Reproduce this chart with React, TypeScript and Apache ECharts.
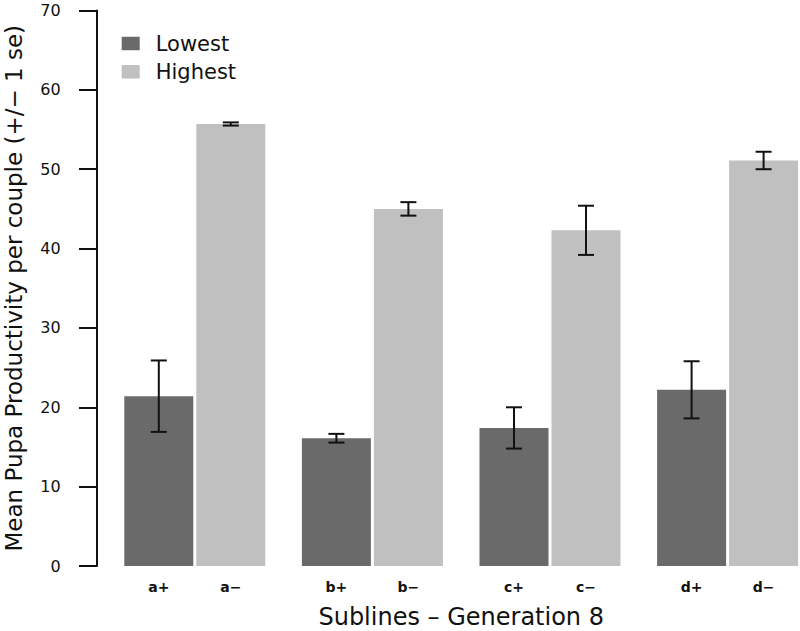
import React, { useEffect, useRef } from "react";
import * as echarts from "echarts";

const groups = ["a", "b", "c", "d"];
const seriesNames = ["Lowest", "Highest"];
const lowestMean = [21.4, 16.1, 17.4, 22.2];
const lowestSe = [4.5, 0.55, 2.6, 3.6];
const highestMean = [55.7, 45.0, 42.3, 51.1];
const highestSe = [0.2, 0.85, 3.1, 1.1];
const yTicks = [0, 10, 20, 30, 40, 50, 60, 70];

const FONT = "DejaVu Sans";
const BAR_W = 69;
const BAR_GAP = 3;
const HALF = (BAR_W + BAR_GAP) / 2;

function errorSeries(name: string, means: number[], ses: number[], dx: number) {
  return {
    type: "custom",
    name: name + "-err",
    silent: true,
    z: 10,
    data: means.map((m, i) => [i, m - ses[i], m + ses[i]]),
    renderItem: (params: any, api: any) => {
      const lo = api.coord([api.value(0), api.value(1)]);
      const hi = api.coord([api.value(0), api.value(2)]);
      const x = lo[0] + dx;
      const cap = 8;
      const st = { stroke: "#111", lineWidth: 2 };
      return {
        type: "group",
        children: [
          { type: "line", shape: { x1: x, y1: lo[1], x2: x, y2: hi[1] }, style: st },
          { type: "line", shape: { x1: x - cap, y1: lo[1], x2: x + cap, y2: lo[1] }, style: st },
          { type: "line", shape: { x1: x - cap, y1: hi[1], x2: x + cap, y2: hi[1] }, style: st },
        ],
      };
    },
  };
}

export default function App() {
  const ref = useRef<HTMLDivElement>(null);
  useEffect(() => {
    if (!ref.current) return;
    const chart = echarts.init(ref.current, undefined, { renderer: "svg" });
    chart.setOption({
      animation: false,
      backgroundColor: "#ffffff",
      textStyle: { fontFamily: FONT },
      grid: { left: 106, top: 10.5, width: 710.4, bottom: 65, outerBoundsMode: "none", containLabel: false },
      legend: {
        orient: "vertical",
        left: 116.7,
        top: 28,
        itemWidth: 18,
        itemHeight: 13.5,
        itemGap: 7.3,
        icon: "rect",
        data: seriesNames,
        textStyle: {
          fontFamily: FONT,
          fontSize: 21,
          lineHeight: 21,
          color: "#111",
          padding: [0, 0, 0, 11],
        },
      },
      xAxis: {
        type: "category",
        data: groups,
        axisLine: { show: false },
        axisTick: { show: false },
        name: "Sublines \u2013 Generation 8",
        nameLocation: "middle",
        nameGap: 39,
        nameTextStyle: { fontFamily: FONT, fontSize: 24, color: "#111" },
        axisLabel: {
          margin: 14,
          formatter: (v: string) => `{p|${v}+}{m|${v}\u2212}`,
          rich: {
            p: { width: 72, align: "center", fontFamily: FONT, fontSize: 14, fontWeight: "bold", color: "#111" },
            m: { width: 72, align: "center", fontFamily: FONT, fontSize: 14, fontWeight: "bold", color: "#111" },
          },
        },
      },
      yAxis: {
        type: "value",
        min: yTicks[0],
        max: yTicks[yTicks.length - 1],
        interval: 10,
        offset: 9.3,
        axisLine: { show: true, lineStyle: { color: "#111", width: 2 } },
        axisTick: { show: true, length: 17.7, lineStyle: { color: "#111", width: 2 } },
        splitLine: { show: false },
        axisLabel: { margin: 36, fontFamily: FONT, fontSize: 16, color: "#111" },
        name: "Mean Pupa Productivity per couple (+/\u2212 1 se)",
        nameLocation: "middle",
        nameGap: 71,
        nameTextStyle: { fontFamily: FONT, fontSize: 23, color: "#111" },
      },
      series: [
        {
          type: "bar",
          name: seriesNames[0],
          data: lowestMean,
          barWidth: BAR_W,
          barGap: (BAR_GAP / BAR_W) * 100 + "%",
          itemStyle: { color: "#6a6a6a" },
        },
        {
          type: "bar",
          name: seriesNames[1],
          data: highestMean,
          barWidth: BAR_W,
          barGap: (BAR_GAP / BAR_W) * 100 + "%",
          itemStyle: { color: "#c0c0c0" },
        },
        errorSeries(seriesNames[0], lowestMean, lowestSe, -HALF),
        errorSeries(seriesNames[1], highestMean, highestSe, HALF),
      ],
    });
    return () => chart.dispose();
  }, []);
  return (
    <div
      ref={ref}
      style={{ position: "absolute", left: 0, top: 0, width: 800, height: 631 }}
    />
  );
}
